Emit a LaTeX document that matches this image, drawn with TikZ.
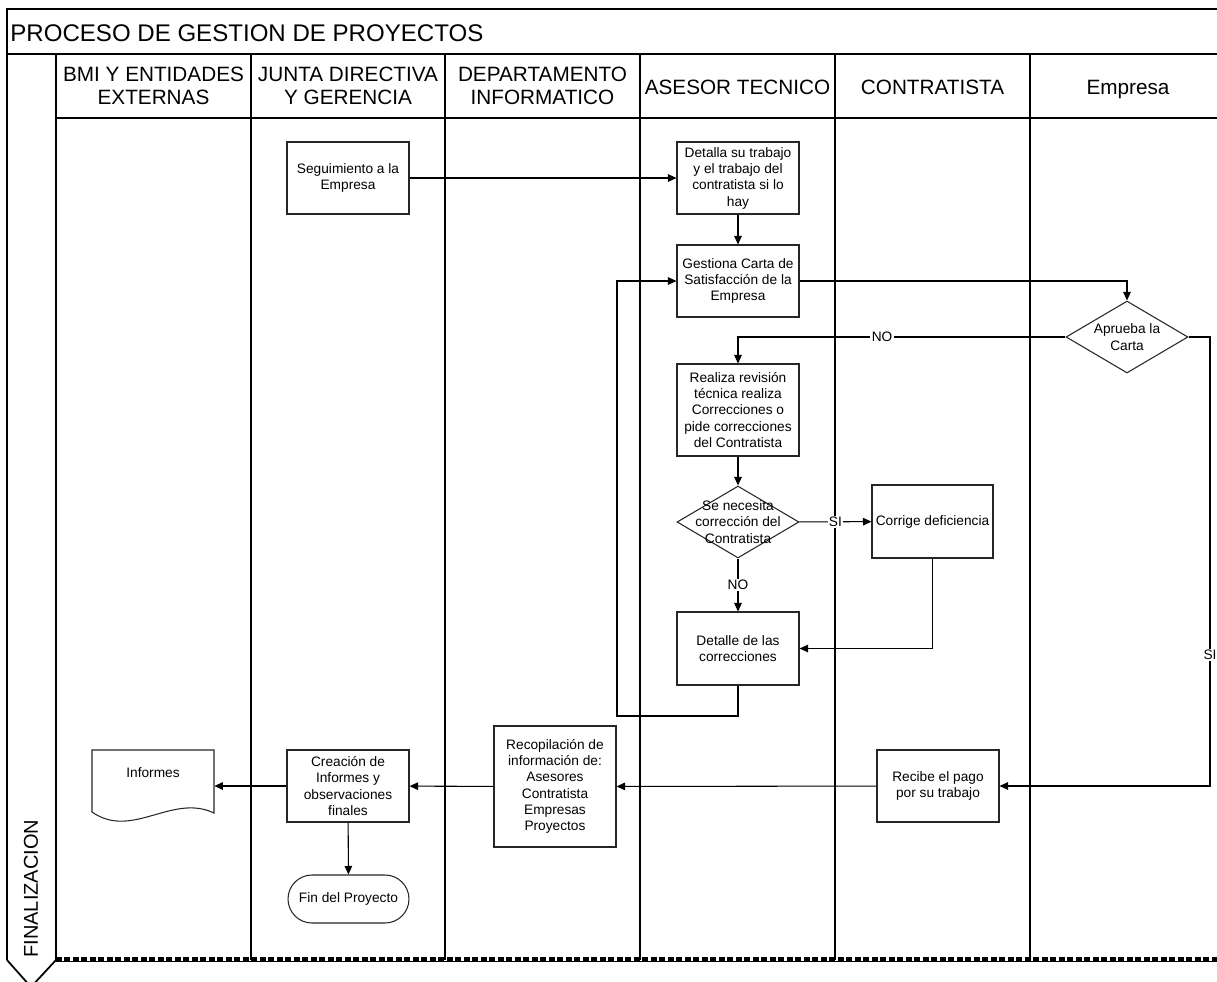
\documentclass[tikz,border=0pt]{standalone}
\usepackage{fontspec}
\setmainfont{Liberation Sans}
\usetikzlibrary{shapes.geometric,arrows.meta,positioning,calc}

\begin{document}
\begin{tikzpicture}[
    x=0.02cm, y=-0.02cm,
    every node/.style={font=\fontsize{7.8}{9.3}\selectfont, text=black},
    proc/.style={rectangle, draw=black!85, line width=0.6pt, fill=white, align=center, minimum width=2.44cm, minimum height=1.44cm, inner sep=1pt},
    decision/.style={diamond, draw=black!85, line width=0.6pt, fill=white, minimum width=2.44cm, minimum height=1.44cm, inner sep=0pt},
    term/.style={rectangle, draw=black!85, line width=0.6pt, rounded corners=0.48cm, minimum width=2.42cm, minimum height=0.96cm, align=center},
    header/.style={align=center, font=\fontsize{11.8}{13}\selectfont},
    lbl/.style={fill=white, inner sep=0.8pt},
    lane/.style={line width=0.8pt, black},
    flow/.style={-{Triangle[length=0.17cm, width=0.15cm]}, line width=0.6pt, black}
]
\useasboundingbox (0,0) rectangle (1217,981);
\clip (0,0) rectangle (1217,981);

% Frame and lanes
\draw[lane] (7,960) -- (7,9) -- (1225,9);
\draw[lane] (7,54) -- (1225,54);
\draw[lane] (56,118) -- (1225,118);
\foreach \x in {56,251,445,640,835,1030}
    \draw[lane] (\x,54) -- (\x,960);
\draw[line width=0.6pt] (56,961.5) -- (1225,961.5);
\draw[line width=2.2pt, dash pattern=on 0.12cm off 0.05cm] (56,959) -- (1225,959);
\draw[line width=1pt] (7,960) -- (31,987) -- (56,960);

% Titles
\node[anchor=west, inner sep=0pt, font=\fontsize{13.7}{15}\selectfont] (titulo) at (10,33) {PROCESO DE GESTION DE PROYECTOS};
\node[rotate=90, anchor=west, inner sep=0pt, font=\fontsize{11.4}{13}\selectfont] (fase) at (31,958) {FINALIZACION};
\node[header] (hbmi) at (153.5,86) {BMI Y ENTIDADES\\EXTERNAS};
\node[header] (hjunta) at (348,86) {JUNTA DIRECTIVA\\Y GERENCIA};
\node[header] (hdepto) at (542.5,86) {DEPARTAMENTO\\INFORMATICO};
\node[header] (hasesor) at (737.5,87) {ASESOR TECNICO};
\node[header] (hcontra) at (932.5,87) {CONTRATISTA};
\node[header] (hempresa) at (1128,89.5) {Empresa};

% Process nodes
\node[proc] (seguimiento) at (348,178) {Seguimiento a la\\Empresa};
\node[proc] (detalla) at (738,178) {Detalla su trabajo\\y el trabajo del\\contratista si lo\\hay};
\node[proc] (gestiona) at (738,281) {Gestiona Carta de\\Satisfacci\'on de la\\Empresa};
\node[decision] (aprueba) at (1127,337) {};
\node[align=center] (apruebatxt) at (aprueba.center) {Aprueba la\\Carta};
\node[proc, minimum height=1.84cm] (realiza) at (738,410) {Realiza revisi\'on\\t\'ecnica realiza\\Correcciones o\\pide correcciones\\del Contratista};
\node[decision] (necesita) at (738,522) {};
\node[align=center, font=\fontsize{7.8}{9.5}\selectfont] (necesitatxt) at (necesita.center) {Se necesita\\correcci\'on del\\Contratista};
\node[proc, minimum width=2.42cm, minimum height=1.46cm] (corrige) at (932.5,521.5) {Corrige deficiencia};
\node[proc, minimum height=1.46cm] (detalle) at (738,648.5) {Detalle de las\\correcciones};
\node[proc] (recibe) at (938,786) {Recibe el pago\\por su trabajo};
\node[proc, minimum height=2.42cm] (recopilacion) at (555,786.5) {Recopilaci\'on de\\informaci\'on de:\\Asesores\\Contratista\\Empresas\\Proyectos};
\node[proc] (creacion) at (348,786) {Creaci\'on de\\Informes y\\observaciones\\finales};
\node[term] (fin) at (348.5,899) {Fin del Proyecto};

% Document shape
\node[minimum width=2.44cm, minimum height=1.44cm, inner sep=0pt] (informes) at (153,786) {};
\draw[draw=black!85, line width=0.6pt] (92,750) -- (214,750) -- (214,813)
    .. controls (172,793) and (132,840) .. (92,812) -- cycle;
\node (informestxt) at (153,773) {Informes};

% Connectors
\coordinate (siturn) at (1210,337);
\coordinate (loop) at (617,716);
\draw[flow] (seguimiento) -- (detalla);
\draw[flow] (detalla) -- (gestiona);
\draw[flow] (gestiona.east) -| (aprueba.north);
\draw[flow] (aprueba.west) -| node[lbl, pos=0.28] {NO} (realiza.north);
\draw[flow] (aprueba.east) -- (siturn) |- node[lbl, pos=0.354] {SI} (recibe.east);
\draw[flow] (realiza) -- (necesita);
\draw[flow] (necesita) -- node[lbl] {SI} (corrige);
\draw[flow] (necesita) -- node[lbl] {NO} (detalle);
\draw[flow] (corrige.south) |- (detalle.east);
\draw[flow] (detalle.south) |- (loop) |- (gestiona.west);
\draw[flow] (recibe) -- (recopilacion);
\draw[flow] (recopilacion) -- (creacion);
\draw[flow] (creacion) -- (informes.east);
\draw[flow] (creacion) -- (fin);

\end{tikzpicture}
\end{document}
